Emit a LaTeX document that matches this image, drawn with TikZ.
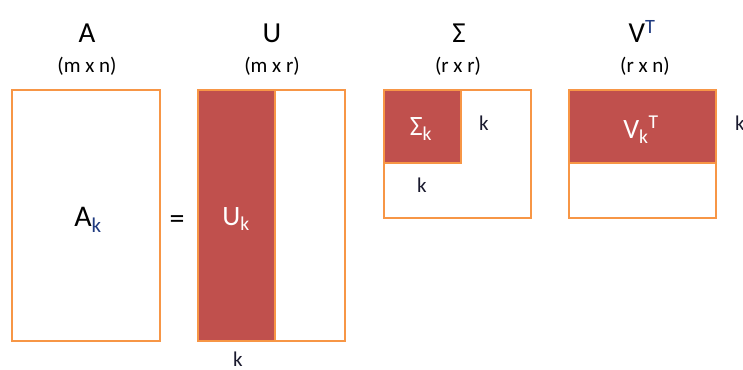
\documentclass[tikz,border=0pt]{standalone}
\usepackage{fontspec}
\setmainfont{Carlito}
\definecolor{boxorange}{HTML}{F79646}
\definecolor{boxred}{HTML}{C0504D}
\definecolor{navy}{HTML}{1F3A80}
\definecolor{klab}{HTML}{1A1A2E}
\begin{document}
\begin{tikzpicture}[x=1pt,y=-1pt,
  mat/.style={draw=boxorange,line width=2pt},
  title/.style={font=\fontsize{29}{31}\selectfont,anchor=base,inner sep=0pt},
  dims/.style={font=\fontsize{21}{23}\selectfont,anchor=base,inner sep=0pt},
  klabel/.style={font=\fontsize{21}{23}\selectfont,anchor=base,inner sep=0pt,text=klab},
  inner/.style={font=\fontsize{28}{30}\selectfont,anchor=base,inner sep=0pt,text=white}]
\useasboundingbox (0,0) rectangle (743,369);
% matrix A
\draw[mat] (12,90) rectangle (160,341);
% matrix U
\fill[boxred] (198,90) rectangle (275,341);
\draw[mat] (198,90) rectangle (275,341);
\draw[mat] (275,90) rectangle (345,341);
% matrix Sigma
\draw[mat] (384,90) rectangle (531,218);
\fill[boxred] (384,90) rectangle (461,163);
\draw[mat] (384,90) rectangle (461,163);
% matrix V^T
\draw[mat] (569,90) rectangle (716,218);
\fill[boxred] (569,90) rectangle (716,163);
\draw[mat] (569,90) rectangle (716,163);
% titles
\node[title] (tA) at (87,43) {A};
\node[dims] (dA) at (87,72) {(m x n)};
\node[title] (tU) at (272,43) {U};
\node[dims] (dU) at (272,72) {(m x r)};
\node[title] (tS) at (459,43) {Σ};
\node[dims] (dS) at (458,72) {(r x r)};
\node[title] (tV) at (642,43) {V\textsuperscript{\textcolor{navy}{T}}};
\node[dims] (dV) at (645,72) {(r x n)};
% inner labels
\node[font=\fontsize{30}{32}\selectfont,anchor=base,inner sep=0pt] (Ak) at (88,226) {A\textsubscript{\textcolor{navy}{k}}};
\node[font=\fontsize{30}{32}\selectfont,inner sep=0pt] (eq) at (177,222) {=};
\node[inner] (Uk) at (236,225) {U\textsubscript{k}};
\node[inner] (Sk) at (421,135) {Σ\textsubscript{k}};
\node[inner] (Vk) at (641,138) {V\textsubscript{k}\textsuperscript{T}};
% k labels
\node[klabel] (kU) at (238,366) {k};
\node[klabel] (kS1) at (484,130) {k};
\node[klabel] (kS2) at (422,192) {k};
\node[klabel,anchor=base west] (kV) at (735,130) {k};
\end{tikzpicture}
\end{document}
